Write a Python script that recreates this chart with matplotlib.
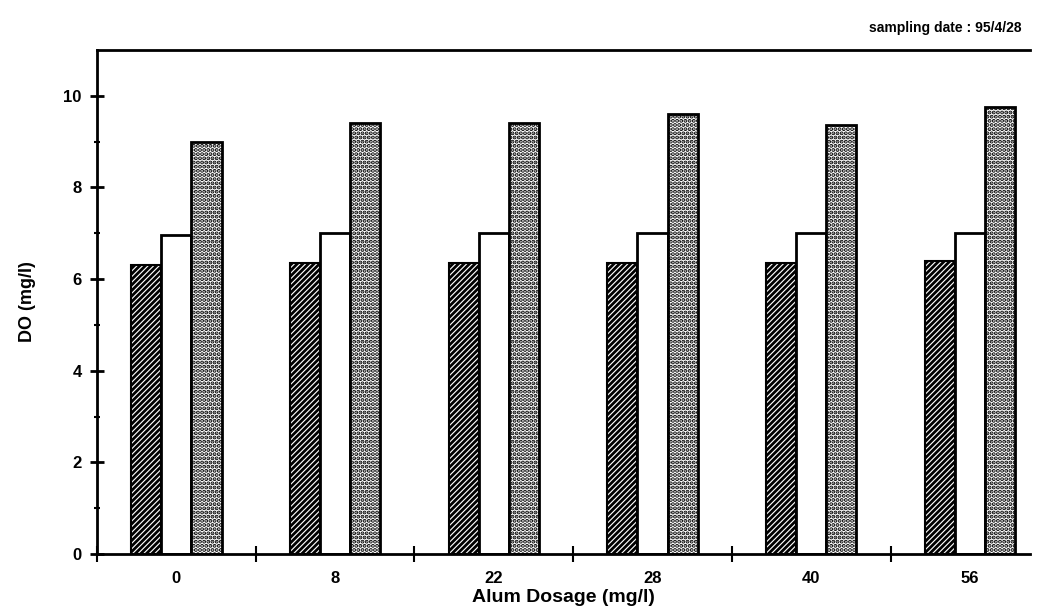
import matplotlib.pyplot as plt
import numpy as np

plt.rcParams['font.family'] = ['Liberation Sans', 'DejaVu Sans']
plt.rcParams['hatch.linewidth'] = 2.0

dosage = ['0', '8', '22', '28', '40', '56']
series_a = [6.3, 6.35, 6.35, 6.35, 6.35, 6.4]
series_b = [6.95, 7.0, 7.0, 7.0, 7.0, 7.0]
series_c = [9.0, 9.4, 9.4, 9.6, 9.35, 9.75]

fig = plt.figure(figsize=(10.37, 6.15), dpi=100)
ax = fig.add_axes([0.0935, 0.099, 0.9, 0.82])

x = np.arange(len(dosage))
w = 0.19
ax.bar(x - w, series_a, w, color='white', edgecolor='black', hatch='//////', linewidth=1.5)
ax.bar(x, series_b, w, color='white', edgecolor='black', linewidth=2)
ax.bar(x + w, series_c, w, color='white', edgecolor='black', hatch='....', linewidth=2)

ax.set_xlim(-0.5, 5.38)
ax.set_ylim(0, 11)
ax.set_xticks(x)
ax.set_xticklabels(dosage, fontweight='bold')
ax.set_xticks(np.arange(-0.5, 5.5, 1), minor=True)
ax.tick_params(axis='x', which='major', length=0, pad=12, labelsize=12)
ax.tick_params(axis='x', which='minor', direction='inout', length=12, width=1.5)
ax.set_yticks(np.arange(0, 11, 2))
ax.set_yticklabels([str(v) for v in range(0, 11, 2)], fontweight='bold')
ax.set_yticks(np.arange(1, 11, 2), minor=True)
ax.tick_params(axis='y', which='major', direction='inout', length=10, width=2, labelsize=12, pad=6)
ax.tick_params(axis='y', which='minor', direction='inout', length=5, width=1.5)

for s in ['left', 'bottom', 'top']:
    ax.spines[s].set_linewidth(2)
ax.spines['right'].set_visible(False)

ax.set_xlabel('Alum Dosage (mg/l)', fontsize=14, fontweight='bold', labelpad=2)
ax.set_ylabel('DO (mg/l)', fontsize=13, fontweight='bold', labelpad=20)
fig.text(0.985, 0.955, 'sampling date : 95/4/28', ha='right', va='center', fontsize=10, fontweight='bold')

fig.savefig('out.png', dpi=100)
